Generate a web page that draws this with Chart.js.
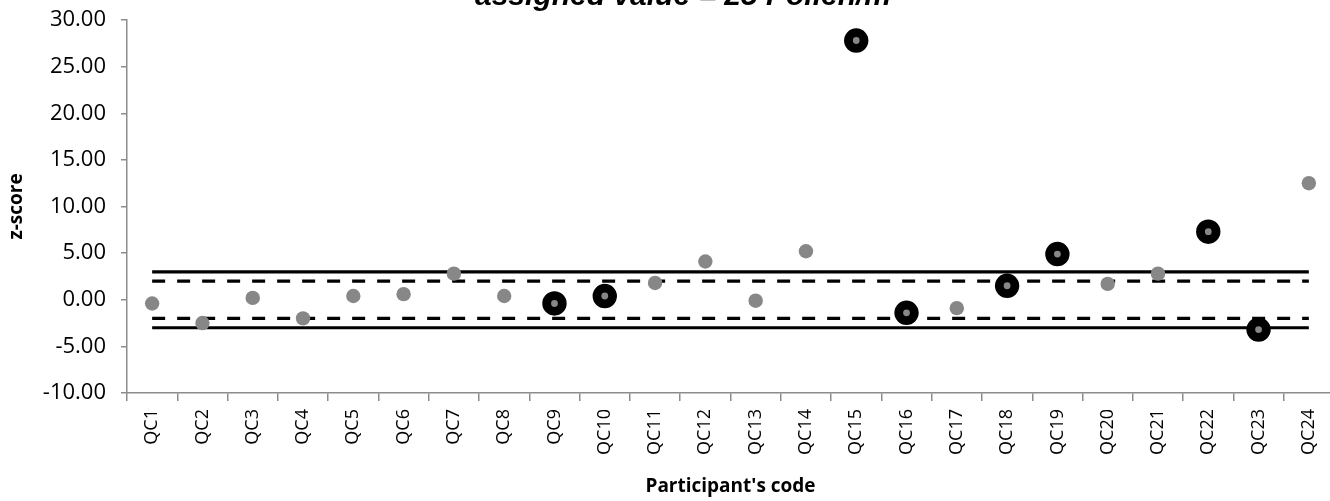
<!DOCTYPE html>
<html>
<head>
<meta charset="utf-8">
<script src="https://cdn.jsdelivr.net/npm/chart.js@4.4.1/dist/chart.umd.min.js"></script>
<style>
    html, body { margin: 0; padding: 0; background: #fff; overflow: hidden; }
    .chart-wrap { position: absolute; left: 0; top: -21px; width: 1387px; height: 522px; }
</style>
</head>
<body>
<div class="chart-wrap">
    <canvas id="chart-zscore"></canvas>
</div>
<script>
    const participants = ['QC1', 'QC2', 'QC3', 'QC4', 'QC5', 'QC6', 'QC7', 'QC8', 'QC9', 'QC10', 'QC11', 'QC12',
        'QC13', 'QC14', 'QC15', 'QC16', 'QC17', 'QC18', 'QC19', 'QC20', 'QC21', 'QC22', 'QC23', 'QC24'];

    // z-scores of labs inside the normal marker style (grey dots)
    const greyScores = [-0.4, -2.5, 0.2, -2.0, 0.4, 0.6, 2.8, 0.4, null, null, 1.8, 4.1,
        -0.1, 5.2, null, null, -0.9, null, null, 1.7, 2.8, null, null, 12.5];

    // z-scores drawn with the black ring marker
    const ringScores = [null, null, null, null, null, null, null, null, -0.4, 0.4, null, null,
        null, null, 27.8, -1.4, null, 1.5, 4.9, null, null, 7.3, -3.2, null];

    const actionLimit = 3;
    const warningLimit = 2;

    const yTicks = [30, 25, 20, 15, 10, 5, 0, -5, -10];

    const flat = (v) => participants.map(() => v);

    const grey = '#878787';
    const axisGrey = '#8c8c8c';

    const limitLine = (v, dashed) => ({
        type: 'line',
        data: flat(v),
        borderColor: '#000',
        borderWidth: 3.2,
        borderDash: dashed ? [13, 12] : [],
        pointRadius: 0,
        fill: false,
        tension: 0
    });

    const ctx = document.getElementById('chart-zscore').getContext('2d');

    new Chart(ctx, {
        type: 'line',
        data: {
            labels: participants,
            datasets: [
                {
                    data: ringScores,
                    showLine: false,
                    pointRadius: 7.8,
                    pointBorderWidth: 8.8,
                    pointBorderColor: '#000',
                    pointBackgroundColor: grey
                },
                {
                    data: greyScores,
                    showLine: false,
                    pointRadius: 7.2,
                    pointBorderWidth: 0,
                    pointBackgroundColor: grey
                },
                limitLine(actionLimit, false),
                limitLine(warningLimit, true),
                limitLine(-warningLimit, true),
                limitLine(-actionLimit, false)
            ]
        },
        options: {
            responsive: true,
            maintainAspectRatio: false,
            animation: false,
            events: [],
            layout: { padding: { left: 0, right: 11, top: 0, bottom: 0 } },
            plugins: {
                legend: { display: false },
                tooltip: { enabled: false },
                title: {
                    display: true,
                    text: 'assigned value = 25 Pollen/m³',
                    color: '#000',
                    font: { family: '"Liberation Sans", Arial, sans-serif', size: 30, weight: 'bold', style: 'italic', lineHeight: 1.2 },
                    padding: { top: 0, bottom: 5 }
                }
            },
            scales: {
                x: {
                    offset: true,
                    grid: {
                        offset: true,
                        drawOnChartArea: false,
                        drawTicks: true,
                        tickLength: 8,
                        color: axisGrey,
                        lineWidth: 1.5
                    },
                    border: { color: axisGrey, width: 1.5 },
                    ticks: {
                        autoSkip: false,
                        minRotation: 90,
                        maxRotation: 90,
                        padding: 8,
                        color: '#000',
                        font: { family: '"Open Sans", sans-serif', size: 18 }
                    },
                    title: {
                        display: true,
                        text: "Participant's code",
                        color: '#000',
                        font: { family: '"Open Sans", sans-serif', size: 19, weight: 'bold', lineHeight: 1.2 },
                        padding: { top: 0, bottom: 3 }
                    },
                    afterFit: (s) => { s.height = 108; }
                },
                y: {
                    min: -10,
                    max: 30,
                    afterBuildTicks: (s) => { s.ticks = yTicks.map(v => ({ value: v })); },
                    grid: {
                        drawOnChartArea: false,
                        drawTicks: true,
                        tickLength: 6,
                        color: axisGrey,
                        lineWidth: 1.5
                    },
                    border: { color: axisGrey, width: 1.5 },
                    ticks: {
                        padding: 15,
                        color: '#000',
                        font: { family: '"Open Sans", sans-serif', size: 22 },
                        callback: (v) => Number(v).toFixed(2)
                    },
                    title: {
                        display: true,
                        text: 'z-score',
                        color: '#000',
                        font: { family: '"Open Sans", sans-serif', size: 19, weight: 'bold', lineHeight: 1.2 },
                        padding: { top: 5, bottom: 0 }
                    },
                    afterFit: (s) => { s.width = 127; }
                },
                // empty right-hand box, only there so the title sits where it does in the original
                spacer: {
                    type: 'linear',
                    position: 'right',
                    display: true,
                    grid: { display: false, drawTicks: false },
                    border: { display: false },
                    ticks: { display: false },
                    afterFit: (s) => { s.width = 42; }
                }
            }
        }
    });
</script>
</body>
</html>
